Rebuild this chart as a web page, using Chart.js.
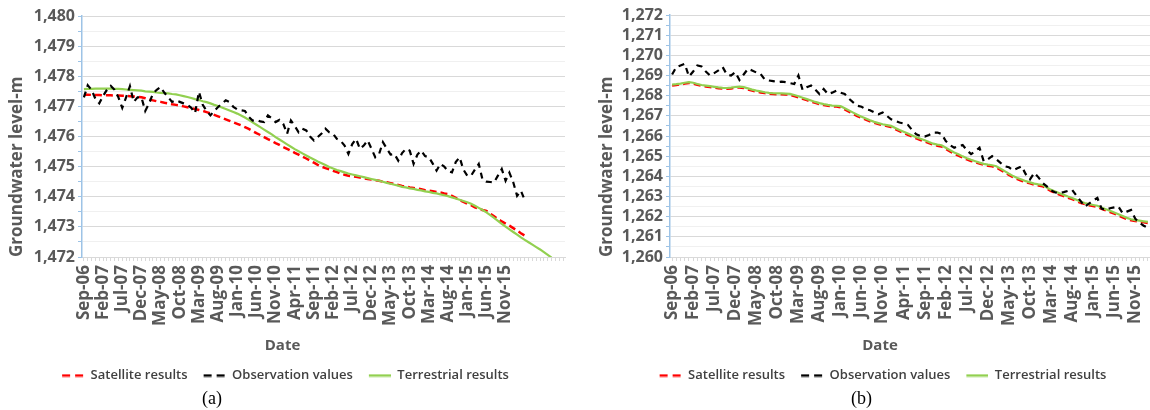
<!DOCTYPE html>
<html>
<head>
<meta charset="utf-8">
<title>Groundwater level</title>
<script src="https://cdn.jsdelivr.net/npm/chart.js@4.4.1/dist/chart.umd.min.js"></script>
<style>
  html, body { margin: 0; padding: 0; background: #fff; }
  body { width: 1150px; height: 410px; overflow: hidden; position: relative; }
  .panel { position: absolute; top: 0; height: 392px; }
  .caption {
    position: absolute; top: 387px; line-height: 22px;
    font-family: "Liberation Serif", "Times New Roman", serif; font-size: 18px; color: #000;
  }
</style>
</head>
<body>
<div class="panel" style="left:0;width:590px"><canvas id="chart-a"></canvas></div>
<div class="panel" style="left:590px;width:560px"><canvas id="chart-b"></canvas></div>
<div class="caption" style="left:202px">(a)</div>
<div class="caption" style="left:851px">(b)</div>
<script>
const MONTHS = ['Jan', 'Feb', 'Mar', 'Apr', 'May', 'Jun', 'Jul', 'Aug', 'Sep', 'Oct', 'Nov', 'Dec'];

// labels written under the x axis (every 5th month)
const tickLabels = ['Sep-06', 'Feb-07', 'Jul-07', 'Dec-07', 'May-08', 'Oct-08', 'Mar-09', 'Aug-09',
  'Jan-10', 'Jun-10', 'Nov-10', 'Apr-11', 'Sep-11', 'Feb-12', 'Jul-12', 'Dec-12', 'May-13',
  'Oct-13', 'Mar-14', 'Aug-14', 'Jan-15', 'Jun-15', 'Nov-15'];

// monthly categories starting Sep-06
function monthRange(count) {
  const out = [];
  for (let k = 0; k < count; k++) {
    const m = (8 + k) % 12;
    const y = 6 + Math.floor((8 + k) / 12);
    out.push(`${MONTHS[m]}-${String(y).padStart(2, '0')}`);
  }
  return out;
}
const monthsA = monthRange(126);
const monthsB = monthRange(114);

// (a) satellite results
const satA = [
  1477.39, 1477.39, 1477.38, 1477.38, 1477.38, 1477.37, 1477.37, 1477.37, 1477.36, 1477.36,
  1477.35, 1477.35, 1477.34, 1477.33, 1477.32, 1477.30, 1477.27, 1477.23, 1477.20, 1477.17,
  1477.15, 1477.12, 1477.10, 1477.07, 1477.05, 1477.03, 1477.00, 1476.97, 1476.94, 1476.91,
  1476.88, 1476.85, 1476.81, 1476.77, 1476.72, 1476.67, 1476.62, 1476.57, 1476.52, 1476.47,
  1476.42, 1476.37, 1476.31, 1476.25, 1476.18, 1476.11, 1476.05, 1475.98, 1475.91, 1475.85,
  1475.78, 1475.72, 1475.65, 1475.59, 1475.53, 1475.46, 1475.40, 1475.33, 1475.27, 1475.20,
  1475.13, 1475.06, 1475.00, 1474.95, 1474.91, 1474.86, 1474.82, 1474.77, 1474.73, 1474.70,
  1474.68, 1474.66, 1474.64, 1474.61, 1474.59, 1474.57, 1474.55, 1474.53, 1474.50, 1474.48,
  1474.45, 1474.42, 1474.39, 1474.36, 1474.34, 1474.31, 1474.29, 1474.27, 1474.25, 1474.22,
  1474.20, 1474.18, 1474.16, 1474.14, 1474.11, 1474.09, 1474.03, 1473.96, 1473.89, 1473.83,
  1473.77, 1473.72, 1473.65, 1473.60, 1473.56, 1473.53, 1473.44, 1473.35, 1473.26, 1473.18,
  1473.11, 1473.04, 1472.96, 1472.88, 1472.79, 1472.71,
];

// (a) observation values
const obsA = [
  1477.30, 1477.70, 1477.55, 1477.25, 1477.10, 1477.35, 1477.55, 1477.68, 1477.55, 1477.30,
  1476.95, 1477.30, 1477.67, 1477.15, 1477.30, 1477.30, 1476.85, 1477.10, 1477.42, 1477.55,
  1477.64, 1477.45, 1477.30, 1477.15, 1477.20, 1477.15, 1477.10, 1477.05, 1476.95, 1476.78,
  1477.48, 1477.05, 1476.85, 1476.70, 1476.85, 1476.98, 1477.09, 1477.20, 1477.14, 1476.98,
  1476.90, 1476.87, 1476.85, 1476.65, 1476.53, 1476.55, 1476.50, 1476.48, 1476.70, 1476.60,
  1476.48, 1476.55, 1476.42, 1476.09, 1476.53, 1476.35, 1476.14, 1476.26, 1476.20, 1476.00,
  1475.87, 1475.98, 1476.10, 1476.26, 1476.14, 1476.09, 1475.92, 1475.85, 1475.70, 1475.42,
  1475.75, 1475.92, 1475.59, 1475.70, 1475.87, 1475.60, 1475.31, 1475.42, 1475.81, 1475.60,
  1475.40, 1475.42, 1475.20, 1475.45, 1475.59, 1475.53, 1475.09, 1475.40, 1475.53, 1475.35,
  1475.31, 1475.10, 1474.87, 1475.09, 1475.00, 1474.85, 1474.81, 1475.15, 1475.31, 1474.90,
  1474.70, 1474.70, 1474.90, 1475.09, 1474.56, 1474.50, 1474.49, 1474.48, 1474.70, 1474.92,
  1474.53, 1474.80, 1474.48, 1474.03, 1474.20, 1473.89,
];

// (a) terrestrial results
const terA = [
  1477.57, 1477.58, 1477.58, 1477.59, 1477.59, 1477.59, 1477.59, 1477.59, 1477.58, 1477.58,
  1477.57, 1477.56, 1477.55, 1477.54, 1477.53, 1477.52, 1477.50, 1477.49, 1477.48, 1477.46,
  1477.45, 1477.44, 1477.43, 1477.41, 1477.40, 1477.37, 1477.34, 1477.31, 1477.28, 1477.24,
  1477.21, 1477.17, 1477.14, 1477.10, 1477.05, 1477.01, 1476.96, 1476.91, 1476.86, 1476.81,
  1476.76, 1476.70, 1476.63, 1476.55, 1476.47, 1476.39, 1476.31, 1476.23, 1476.15, 1476.07,
  1475.98, 1475.90, 1475.82, 1475.74, 1475.66, 1475.58, 1475.51, 1475.44, 1475.37, 1475.30,
  1475.24, 1475.17, 1475.11, 1475.05, 1474.99, 1474.94, 1474.89, 1474.85, 1474.81, 1474.77,
  1474.74, 1474.71, 1474.68, 1474.65, 1474.62, 1474.59, 1474.56, 1474.53, 1474.50, 1474.46,
  1474.43, 1474.40, 1474.37, 1474.33, 1474.31, 1474.28, 1474.26, 1474.23, 1474.21, 1474.18,
  1474.16, 1474.13, 1474.11, 1474.08, 1474.05, 1474.02, 1473.98, 1473.94, 1473.90, 1473.86,
  1473.82, 1473.77, 1473.70, 1473.63, 1473.56, 1473.48, 1473.39, 1473.30, 1473.20, 1473.10,
  1473.01, 1472.92, 1472.83, 1472.74, 1472.65, 1472.57, 1472.49, 1472.41, 1472.33, 1472.25,
  1472.16, 1472.07, 1471.98,
];

// (b) satellite results
const satB = [
  1268.51, 1268.53, 1268.56, 1268.60, 1268.63, 1268.60, 1268.54, 1268.49, 1268.46, 1268.43,
  1268.40, 1268.37, 1268.35, 1268.34, 1268.36, 1268.39, 1268.41, 1268.38, 1268.31, 1268.25,
  1268.20, 1268.16, 1268.13, 1268.10, 1268.08, 1268.07, 1268.07, 1268.06, 1268.04, 1267.98,
  1267.92, 1267.85, 1267.78, 1267.71, 1267.64, 1267.58, 1267.53, 1267.50, 1267.47, 1267.46,
  1267.43, 1267.32, 1267.21, 1267.10, 1266.99, 1266.90, 1266.81, 1266.73, 1266.65, 1266.59,
  1266.54, 1266.50, 1266.45, 1266.34, 1266.24, 1266.15, 1266.06, 1265.97, 1265.88, 1265.80,
  1265.73, 1265.65, 1265.57, 1265.52, 1265.48, 1265.36, 1265.24, 1265.12, 1265.03, 1264.93,
  1264.84, 1264.76, 1264.70, 1264.63, 1264.57, 1264.53, 1264.50, 1264.44, 1264.32, 1264.20,
  1264.07, 1263.95, 1263.86, 1263.78, 1263.71, 1263.65, 1263.59, 1263.55, 1263.51, 1263.39,
  1263.27, 1263.19, 1263.10, 1263.02, 1262.94, 1262.87, 1262.78, 1262.69, 1262.63, 1262.57,
  1262.53, 1262.48, 1262.39, 1262.31, 1262.23, 1262.15, 1262.06, 1261.97, 1261.88, 1261.82,
  1261.78, 1261.75, 1261.72, 1261.69,
];

// (b) observation values
const obsB = [
  1269.05, 1269.42, 1269.50, 1269.58, 1268.95, 1269.20, 1269.50, 1269.45, 1269.20, 1269.00,
  1269.12, 1269.25, 1269.42, 1269.05, 1269.00, 1269.17, 1268.78, 1269.05, 1269.33, 1269.25,
  1269.15, 1269.08, 1268.80, 1268.75, 1268.72, 1268.67, 1268.70, 1268.67, 1268.62, 1268.58,
  1269.00, 1268.28, 1268.42, 1268.50, 1268.30, 1268.08, 1268.33, 1268.08, 1268.15, 1268.25,
  1268.15, 1268.08, 1267.85, 1267.67, 1267.50, 1267.45, 1267.33, 1267.28, 1267.17, 1267.08,
  1267.17, 1267.00, 1266.83, 1266.75, 1266.67, 1266.62, 1266.55, 1266.30, 1266.08, 1266.00,
  1265.97, 1266.05, 1266.17, 1266.17, 1266.10, 1265.75, 1265.55, 1265.42, 1265.50, 1265.55,
  1265.30, 1265.10, 1265.25, 1265.42, 1264.75, 1264.85, 1265.00, 1264.85, 1264.67, 1264.50,
  1264.45, 1264.30, 1264.40, 1264.50, 1264.10, 1263.85, 1264.17, 1263.95, 1263.67, 1263.50,
  1263.30, 1263.20, 1263.17, 1263.22, 1263.28, 1263.33, 1263.05, 1262.78, 1262.50, 1262.65,
  1262.80, 1262.93, 1262.40, 1262.33, 1262.42, 1262.46, 1262.50, 1262.17, 1262.25, 1262.33,
  1261.90, 1261.70, 1261.55, 1261.45,
];

// (b) terrestrial results
const terB = [
  1268.55, 1268.57, 1268.60, 1268.64, 1268.67, 1268.64, 1268.58, 1268.53, 1268.50, 1268.47,
  1268.44, 1268.41, 1268.39, 1268.38, 1268.40, 1268.43, 1268.45, 1268.42, 1268.36, 1268.30,
  1268.25, 1268.21, 1268.17, 1268.14, 1268.12, 1268.11, 1268.11, 1268.10, 1268.09, 1268.03,
  1267.97, 1267.90, 1267.83, 1267.76, 1267.69, 1267.63, 1267.58, 1267.54, 1267.51, 1267.50,
  1267.48, 1267.38, 1267.27, 1267.16, 1267.05, 1266.96, 1266.87, 1266.78, 1266.70, 1266.64,
  1266.58, 1266.54, 1266.50, 1266.40, 1266.30, 1266.21, 1266.12, 1266.03, 1265.94, 1265.86,
  1265.79, 1265.70, 1265.62, 1265.57, 1265.54, 1265.42, 1265.30, 1265.18, 1265.09, 1264.99,
  1264.90, 1264.82, 1264.75, 1264.68, 1264.62, 1264.58, 1264.55, 1264.50, 1264.38, 1264.26,
  1264.13, 1264.01, 1263.92, 1263.84, 1263.76, 1263.70, 1263.64, 1263.60, 1263.57, 1263.45,
  1263.33, 1263.25, 1263.16, 1263.08, 1263.00, 1262.93, 1262.84, 1262.75, 1262.68, 1262.62,
  1262.58, 1262.54, 1262.45, 1262.37, 1262.29, 1262.21, 1262.12, 1262.03, 1261.94, 1261.87,
  1261.83, 1261.80, 1261.77, 1261.74,
];

const FONT = "'Open Sans', 'DejaVu Sans', sans-serif";
const GREY = '#595959';
const RED = '#ff0000';
const BLACK = '#000000';
const GREEN = '#92d050';

// little line sample for the legend (transparent on the left = extra gap between items)
function sample(color, dashed) {
  const c = document.createElement('canvas');
  c.width = 28;
  c.height = 4;
  const g = c.getContext('2d');
  g.strokeStyle = color;
  g.lineWidth = 2.5;
  if (dashed) g.setLineDash([8, 5]);
  g.beginPath();
  g.moveTo(6, 2);
  g.lineTo(28, 2);
  g.stroke();
  return c;
}

function makeChart(id, labels, sat, obs, ter, yMin, yMax, pad, axisWidth, titleShift) {
  const ctx = document.getElementById(id);
  // eslint-disable-next-line no-undef
  return new Chart(ctx, {
    type: 'line',
    data: {
      labels,
      datasets: [
        {
          label: 'Satellite results',
          data: sat,
          borderColor: RED,
          borderWidth: 2.5,
          borderDash: [7, 4],
          pointRadius: 0,
          pointHoverRadius: 0,
          pointStyle: sample(RED, true),
          order: 2,
        },
        {
          label: 'Observation values',
          data: obs,
          borderColor: BLACK,
          borderWidth: 2.2,
          borderDash: [6, 5],
          pointRadius: 0,
          pointHoverRadius: 0,
          pointStyle: sample(BLACK, true),
          order: 0,
        },
        {
          label: 'Terrestrial results',
          data: ter,
          borderColor: GREEN,
          borderWidth: 2.2,
          pointRadius: 0,
          pointHoverRadius: 0,
          pointStyle: sample(GREEN, false),
          order: 1,
        },
      ],
    },
    options: {
      responsive: true,
      maintainAspectRatio: false,
      animation: false,
      devicePixelRatio: 1,
      layout: { padding: pad },
      plugins: {
        legend: {
          position: 'bottom',
          weight: 1000,
          labels: {
            usePointStyle: true,
            pointStyleWidth: 28,
            padding: 10,
            color: '#404040',
            font: { family: FONT, size: 13, weight: '600' },
            sort: (a, b) => a.datasetIndex - b.datasetIndex,
          },
        },
        title: {
          display: true,
          text: 'Date',
          position: 'bottom',
          weight: 500,
          color: GREY,
          font: { family: FONT, size: 15, weight: 'bold' },
          padding: { top: 10, bottom: 4 },
        },
        tooltip: { enabled: false },
      },
      scales: {
        x: {
          type: 'category',
          offset: true,
          afterFit: (axis) => {
            axis.height = 70;
            axis.paddingLeft = 0;
            axis.paddingRight = 0;
          },
          ticks: {
            autoSkip: false,
            minRotation: 90,
            maxRotation: 90,
            padding: 4,
            color: GREY,
            font: { family: FONT, size: 17, weight: 'bold' },
            callback(value) {
              const l = this.getLabelForValue(value);
              return tickLabels.includes(l) ? l : '';
            },
          },
          grid: { drawOnChartArea: false, tickLength: 4, color: '#d9d9d9' },
          border: { color: '#d9d9d9' },
        },
        y: {
          min: yMin,
          max: yMax,
          afterFit: (axis) => { axis.width = axisWidth; },
          ticks: {
            stepSize: 0.5,
            autoSkip: false,
            padding: 3,
            color: GREY,
            font: { family: FONT, size: 16, weight: 'bold' },
            callback: (v) => (Number.isInteger(v) ? v.toLocaleString('en-US') : ''),
          },
          grid: {
            color: (c) => (Number.isInteger(c.tick.value) ? '#d9d9d9' : '#f0f0f0'),
            tickColor: '#9dc3e6',
            tickLength: 4,
          },
          border: { color: '#9dc3e6', width: 1.5 },
          title: {
            display: true,
            text: 'Groundwater level-m',
            align: 'start',
            color: GREY,
            font: { family: FONT, size: 17, weight: 'bold' },
            padding: { top: titleShift, bottom: 0 },
          },
        },
      },
    },
  });
}

makeChart('chart-a', monthsA, satA, obsA, terA, 1472, 1480,
  { left: 0, top: 16, right: 25, bottom: 0 }, 82, 7);
makeChart('chart-b', monthsB, satB, obsB, terB, 1260, 1272,
  { left: 20, top: 15, right: 0, bottom: 0 }, 60, -13);
</script>
</body>
</html>
